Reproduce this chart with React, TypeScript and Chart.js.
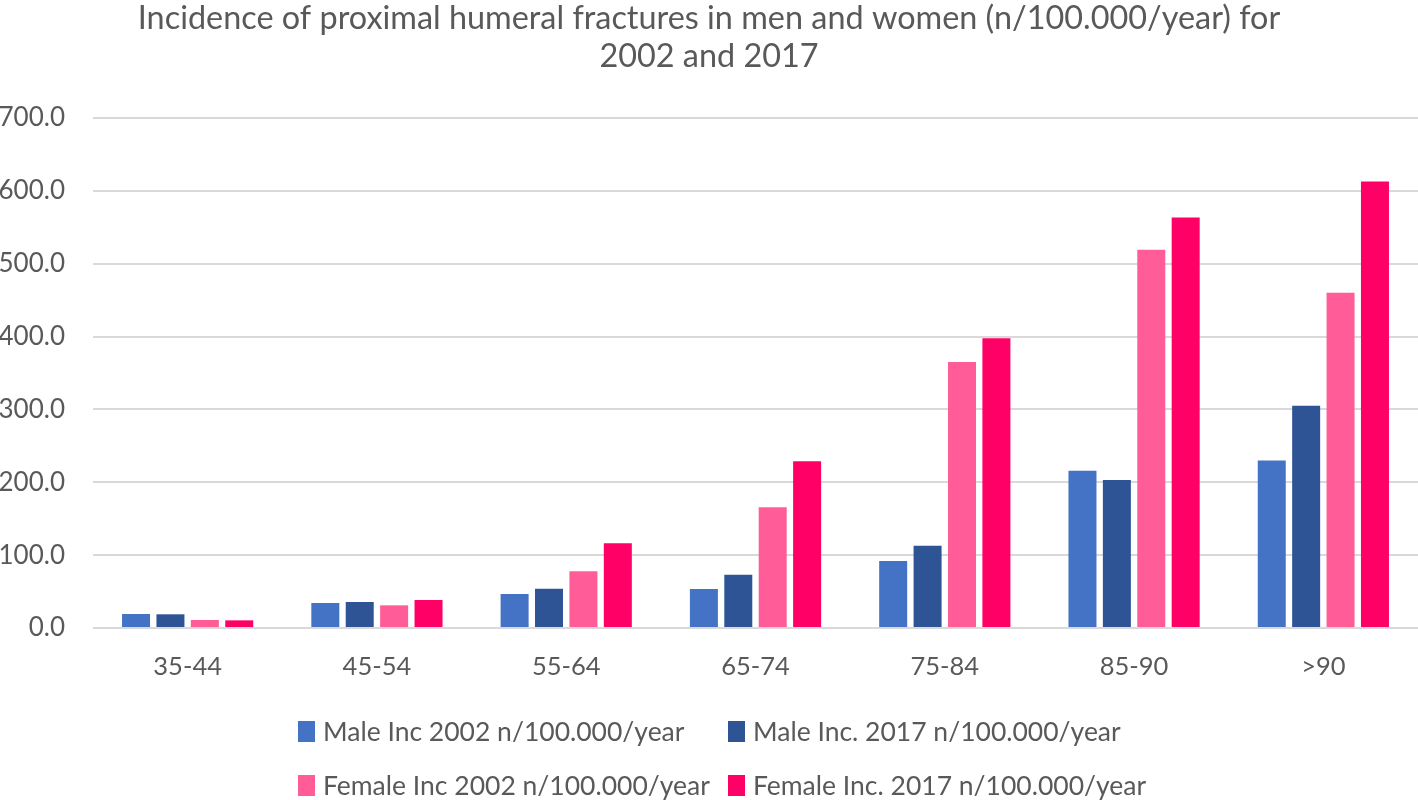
import React, { useEffect, useRef } from "react";
import { Chart, registerables } from "chart.js";

Chart.register(...registerables);

const categories = ["35-44", "45-54", "55-64", "65-74", "75-84", "85-90", ">90"];
const maleInc2002 = [19.2, 34.3, 46.6, 53.4, 92, 216, 230];
const maleInc2017 = [18.8, 35.7, 53.8, 73, 113, 203, 305];
const femaleInc2002 = [11, 31.1, 78, 165.8, 365, 519, 460];
const femaleInc2017 = [10.5, 38.4, 116.4, 228.8, 397.6, 563.6, 613];

const seriesLabels = [
  "Male Inc 2002 n/100.000/year",
  "Male Inc. 2017 n/100.000/year",
  "Female Inc 2002 n/100.000/year",
  "Female Inc. 2017 n/100.000/year",
];
const seriesColors = ["#4472C4", "#2E5496", "#FF5C98", "#FF0066"];
const titleLines = [
  "Incidence of proximal humeral fractures in men and women (n/100.000/year) for",
  "2002 and 2017",
];
const yMin = 0;
const yMax = 700;
const yStep = 100;

const FONT = "Lato, 'Open Sans', sans-serif";
const TEXT = "#595959";

// legend grid placement (2 columns x 2 rows, like the reference)
const legendCols = [298, 728];
const legendRows = [731, 785];

export default function App() {
  const ref = useRef<HTMLCanvasElement | null>(null);

  useEffect(() => {
    if (!ref.current) return;
    const values = [maleInc2002, maleInc2017, femaleInc2002, femaleInc2017];
    const chart = new Chart(ref.current, {
      type: "bar",
      data: {
        labels: categories,
        datasets: values.map((v, i) => ({
          label: seriesLabels[i],
          data: v,
          backgroundColor: seriesColors[i],
          borderWidth: 0,
          categoryPercentage: 0.727,
          barPercentage: 0.814,
        })),
      },
      options: {
        responsive: false,
        animation: false,
        devicePixelRatio: 1,
        layout: { padding: { top: 0, left: 0, right: 0, bottom: 111 } },
        plugins: {
          title: {
            display: true,
            text: titleLines,
            color: TEXT,
            font: { family: FONT, size: 32.4, weight: "normal", lineHeight: 38 / 32.4 },
            padding: { top: 0, bottom: 42 },
          },
          legend: { display: false },
          tooltip: { enabled: false },
        },
        scales: {
          x: {
            grid: { display: false },
            border: { display: false },
            ticks: {
              color: TEXT,
              font: { family: FONT, size: 25.5 },
              padding: 15,
              maxRotation: 0,
            },
            afterFit: (scale: any) => {
              scale.height = 61;
            },
          },
          y: {
            min: yMin,
            max: yMax,
            grid: { color: "#d9d9d9", lineWidth: 2, drawTicks: false },
            border: { display: false },
            ticks: {
              stepSize: yStep,
              color: TEXT,
              font: { family: FONT, size: 26 },
              padding: 28,
              callback: (v: any) => Number(v).toFixed(1),
            },
            afterFit: (scale: any) => {
              scale.width = 93;
            },
          },
        },
      },
    });
    return () => chart.destroy();
  }, []);

  return (
    <div
      style={{
        position: "fixed",
        left: 0,
        top: 0,
        width: 1418,
        height: 800,
        overflow: "hidden",
        background: "#fff",
      }}
    >
      <canvas ref={ref} width={1418} height={800} style={{ display: "block" }} />
      {seriesLabels.map((label, i) => (
        <div
          key={label}
          style={{
            position: "absolute",
            left: legendCols[i % 2],
            top: legendRows[Math.floor(i / 2)] - 20,
            height: 40,
            display: "flex",
            alignItems: "center",
            whiteSpace: "nowrap",
            fontFamily: FONT,
            fontSize: 26.5,
            color: TEXT,
          }}
        >
          <span
            style={{
              display: "inline-block",
              width: 17,
              height: 21,
              background: seriesColors[i],
              marginRight: 8,
            }}
          />
          <span>{label}</span>
        </div>
      ))}
    </div>
  );
}
